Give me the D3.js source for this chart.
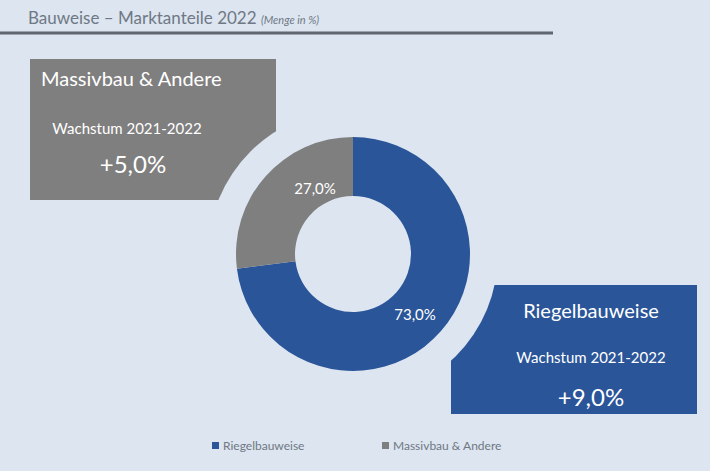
<!DOCTYPE html><html><head><meta charset="utf-8">
<script src="https://d3js.org/d3.v7.min.js"></script>
<style>body{margin:0;background:#dce5f0}svg{display:block;font-family:Lato,"Open Sans",sans-serif}</style></head><body>
<svg id="c" width="710" height="471"></svg>
<script>
const categories=["Riegelbauweise","Massivbau & Andere"];
const values=[73.0,27.0];
const growth=["+9,0%","+5,0%"];
const colors=["#2a5599","#7f7f7f"];
const bg="#dce5f0";
const svg=d3.select("#c");
svg.append("rect").attr("width",710).attr("height",471).attr("fill",bg);
const t=svg.append("text").attr("x",28).attr("y",24).attr("fill","#6f7884").attr("font-size",17);
t.append("tspan").text("Bauweise – Marktanteile 2022 ");
t.append("tspan").attr("font-size",11).attr("font-style","italic").text("(Menge in %)");
svg.append("line").attr("x1",0).attr("x2",553).attr("y1",33).attr("y2",33).attr("stroke","#5f6670").attr("stroke-width",3);
const cx=353,cy=254;
// boxes
svg.append("rect").attr("x",30).attr("y",59).attr("width",246).attr("height",141).attr("fill",colors[1]);
svg.append("rect").attr("x",451).attr("y",285).attr("width",246).attr("height",129).attr("fill",colors[0]);
svg.append("circle").attr("cx",cx).attr("cy",cy).attr("r",145).attr("fill",bg);
function boxText(x,y1,name,g){
 svg.append("text").attr("x",x).attr("y",y1).attr("text-anchor","middle").attr("fill","#fff").attr("font-size",20).text(name);
 svg.append("text").attr("x",x).attr("y",y1+46).attr("text-anchor","middle").attr("fill","#fff").attr("font-size",15).text("Wachstum 2021-2022");
 svg.append("text").attr("x",x).attr("y",y1+91).attr("text-anchor","middle").attr("fill","#fff").attr("font-size",24).text(g);
}
svg.append("text").attr("x",41).attr("y",86).attr("fill","#fff").attr("font-size",20).text(categories[1]);
svg.append("text").attr("x",127).attr("y",134).attr("text-anchor","middle").attr("fill","#fff").attr("font-size",15).text("Wachstum 2021-2022");
svg.append("text").attr("x",133).attr("y",173).attr("text-anchor","middle").attr("fill","#fff").attr("font-size",24).text(growth[1]);
svg.append("text").attr("x",591).attr("y",318).attr("text-anchor","middle").attr("fill","#fff").attr("font-size",20).text(categories[0]);
svg.append("text").attr("x",591).attr("y",363).attr("text-anchor","middle").attr("fill","#fff").attr("font-size",15).text("Wachstum 2021-2022");
svg.append("text").attr("x",591).attr("y",406).attr("text-anchor","middle").attr("fill","#fff").attr("font-size",24).text(growth[0]);
// donut
const pie=d3.pie().sort(null)(values);
const arc=d3.arc().innerRadius(58).outerRadius(117);
const g=svg.append("g").attr("transform",`translate(${cx},${cy})`);
g.selectAll("path").data(pie).join("path").attr("d",arc).attr("fill",(d,i)=>colors[i]);
const lab=[[62,66],[-38,-60]];
g.selectAll("text").data(pie).join("text").attr("x",(d,i)=>lab[i][0]).attr("y",(d,i)=>lab[i][1])
 .attr("text-anchor","middle").attr("fill","#fff").attr("font-size",15)
 .text(d=>d3.format(".1f")(d.data).replace(".",",")+"%");
// legend
const lx=[212,382];
categories.forEach((c,i)=>{
 svg.append("rect").attr("x",lx[i]).attr("y",442).attr("width",7).attr("height",7).attr("fill",colors[i]);
 svg.append("text").attr("x",lx[i]+11).attr("y",450).attr("fill","#6f7884").attr("font-size",12).text(c);
});
</script></body></html>
